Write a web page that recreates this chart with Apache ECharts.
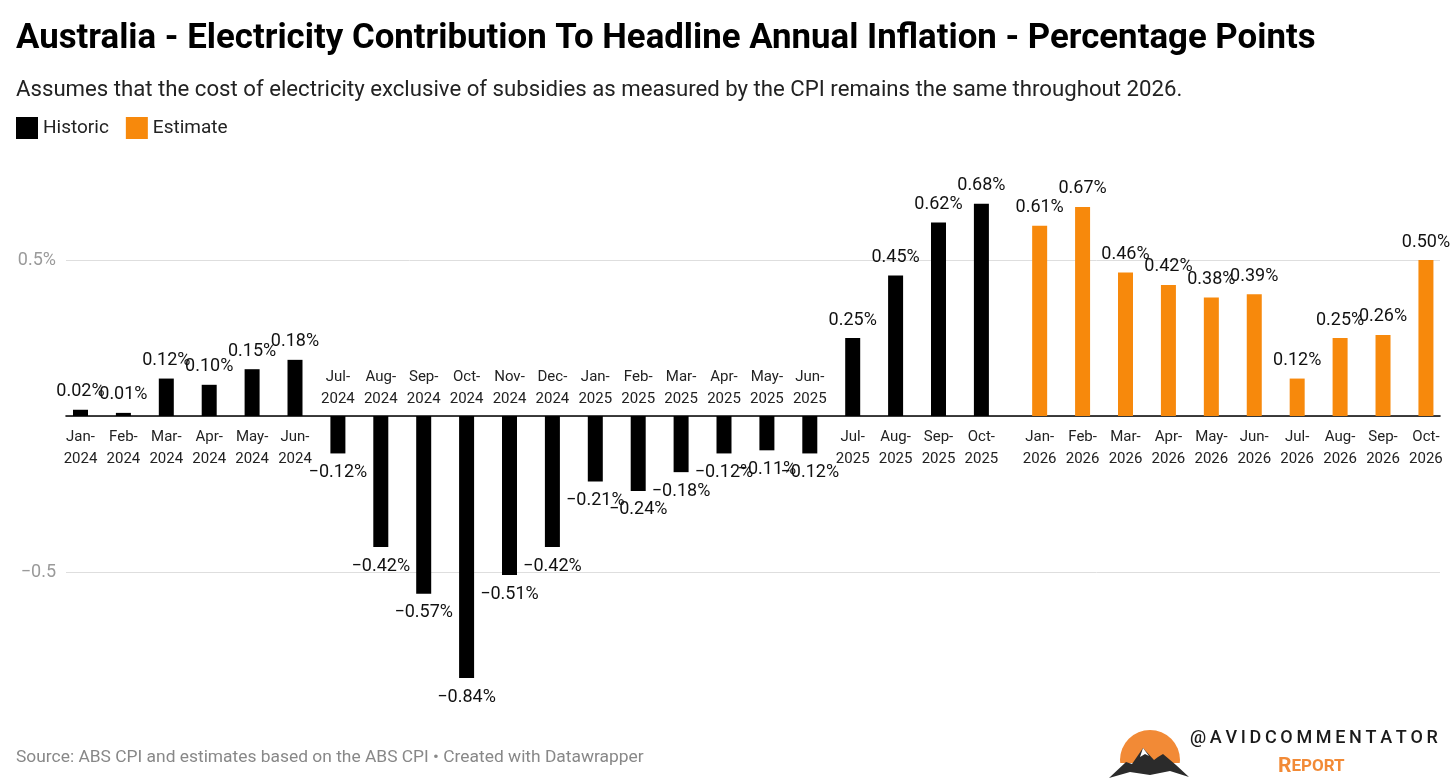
<!DOCTYPE html>
<html><head><meta charset="utf-8">
<script src="https://cdn.jsdelivr.net/npm/echarts@6/dist/echarts.min.js"></script>
<style>html,body{margin:0;padding:0;background:#fff}#c{width:1456px;height:782px}</style>
</head><body><div id="c"></div>
<script>
const histCategories = ['Jan-2024','Feb-2024','Mar-2024','Apr-2024','May-2024','Jun-2024','Jul-2024','Aug-2024','Sep-2024','Oct-2024','Nov-2024','Dec-2024','Jan-2025','Feb-2025','Mar-2025','Apr-2025','May-2025','Jun-2025','Jul-2025','Aug-2025','Sep-2025','Oct-2025'];
const histValues = [0.02,0.01,0.12,0.10,0.15,0.18,-0.12,-0.42,-0.57,-0.84,-0.51,-0.42,-0.21,-0.24,-0.18,-0.12,-0.11,-0.12,0.25,0.45,0.62,0.68];
const estCategories = ['Jan-2026','Feb-2026','Mar-2026','Apr-2026','May-2026','Jun-2026','Jul-2026','Aug-2026','Sep-2026','Oct-2026'];
const estValues = [0.61,0.67,0.46,0.42,0.38,0.39,0.12,0.25,0.26,0.50];
const yTickLabels = {'0.5':'0.5%','-0.5':'\u22120.5'};

const FONT = 'Roboto';
const BLACK = '#000000';
const ORANGE = '#f7890c';
const BAR_TOP = 104, BAR_HALF = 312; // zero line sits at BAR_TOP + BAR_HALF

function fmtCat(c){ return c.replace('-', '-\n'); }
function fmtVal(v){ return (v < 0 ? '\u2212' : '') + Math.abs(v).toFixed(2) + '%'; }
function items(vals){
  return vals.map(v => ({value: v, label: {position: v < 0 ? 'bottom' : 'top', distance: v < 0 ? 9 : 8}}));
}
function catAxis(grid, cats, vals, pos){
  return {
    gridIndex: grid, type: 'category', data: cats, position: pos, offset: -BAR_HALF,
    axisLine: {show: false, onZero: false},
    axisTick: {show: false}, splitLine: {show: false},
    axisLabel: {
      interval: 0, margin: pos === 'bottom' ? 10 : 6,
      fontFamily: FONT, fontSize: 15, lineHeight: 22, color: '#222',
      formatter: (v, i) => (pos === 'bottom' ? vals[i] >= 0 : vals[i] < 0) ? fmtCat(v) : ''
    }
  };
}
const valAxisHidden = (grid) => ({
  gridIndex: grid, type: 'value', min: -1, max: 1,
  axisLine: {show: false}, axisTick: {show: false}, axisLabel: {show: false}, splitLine: {show: false}
});
const barLabel = {
  show: true, distance: 8, fontFamily: FONT, fontSize: 18, lineHeight: 20, color: '#111',
  formatter: p => fmtVal(p.value)
};

const chart = echarts.init(document.getElementById('c'), null, {renderer: 'canvas'});
chart.setOption({
  backgroundColor: '#fff',
  animation: false,
  title: [
    {text: 'Australia - Electricity Contribution To Headline Annual Inflation - Percentage Points',
     left: 11, top: 17, textStyle: {fontFamily: FONT, fontSize: 34.8, fontWeight: 'bold', color: '#000'}},
    {text: 'Assumes that the cost of electricity exclusive of subsidies as measured by the CPI remains the same throughout 2026.',
     left: 11, top: 74, textStyle: {fontFamily: FONT, fontSize: 22.2, fontWeight: 'normal', color: '#222'}},
    {text: 'Source: ABS CPI and estimates based on the ABS CPI \u2022 Created with Datawrapper',
     left: 11, top: 744, textStyle: {fontFamily: FONT, fontSize: 17.4, fontWeight: 'normal', color: '#888'}}
  ],
  legend: {
    left: 11, top: 112, itemWidth: 22, itemHeight: 22, itemGap: 17, icon: 'rect',
    textStyle: {fontFamily: FONT, fontSize: 19, color: '#222'},
    data: ['Historic', 'Estimate']
  },
  grid: [
    {left: 59.05, width: 943.8, top: BAR_TOP, height: 2 * BAR_HALF, outerBoundsMode: 'none', containLabel: false},
    {left: 1018.2, width: 429.2, top: BAR_TOP, height: 2 * BAR_HALF, outerBoundsMode: 'none', containLabel: false},
    {left: 66, right: 16, top: 260, height: 312, outerBoundsMode: 'none', containLabel: false}
  ],
  xAxis: [
    catAxis(0, histCategories, histValues, 'bottom'),
    catAxis(0, histCategories, histValues, 'top'),
    catAxis(1, estCategories, estValues, 'bottom'),
    catAxis(1, estCategories, estValues, 'top'),
    {gridIndex: 2, type: 'value', min: 0, max: 1,
     axisLine: {show: true, onZero: true, lineStyle: {color: '#000', width: 1.6}},
     axisTick: {show: false}, axisLabel: {show: false}, splitLine: {show: false}}
  ],
  yAxis: [
    valAxisHidden(0),
    valAxisHidden(1),
    {gridIndex: 2, type: 'value', min: -0.5, max: 0.5, interval: 0.5,
     axisLine: {show: false}, axisTick: {show: false},
     splitLine: {show: true, lineStyle: {color: '#dedede', width: 1}},
     axisLabel: {margin: 10, fontFamily: FONT, fontSize: 18, color: '#9a9a9a',
       formatter: v => yTickLabels[String(Math.round(v * 10) / 10)] || ''}}
  ],
  series: [
    {name: 'Historic', type: 'bar', xAxisIndex: 0, yAxisIndex: 0, barWidth: 15,
     itemStyle: {color: BLACK}, label: barLabel, data: items(histValues), z: 3},
    {name: 'Estimate', type: 'bar', xAxisIndex: 2, yAxisIndex: 1, barWidth: 15,
     itemStyle: {color: ORANGE}, label: barLabel, data: items(estValues), z: 3}
  ],
  graphic: [
    {type: 'circle', shape: {cx: 1150, cy: 760, r: 30}, style: {fill: '#f28a36'}, z: 10},
    {type: 'rect', shape: {x: 1115, y: 763, width: 70, height: 30}, style: {fill: '#fff'}, z: 11},
    {type: 'polygon', shape: {points: [[1109,778],[1126,762],[1132,764],[1143,748],[1154,760],[1158,757],[1163,754],[1176,765],[1189,777],[1170,771],[1150,775],[1130,772]]},
     style: {fill: '#2b2b2b'}, z: 12},
    {type: 'polygon', shape: {points: [[1143,748],[1149,756],[1145,754],[1140,757]]}, style: {fill: '#fff'}, z: 13},
    {type: 'text', left: 1190, top: 729, z: 12,
     style: {text: '@\u2009A\u2009V\u2009I\u2009D\u2009C\u2009O\u2009M\u2009M\u2009E\u2009N\u2009T\u2009A\u2009T\u2009O\u2009R',
       font: '500 18px Roboto', fill: '#1a1a1a'}},
    {type: 'text', left: 1278, top: 756, z: 12,
     style: {text: '{a|R}{b|EPORT}', rich: {
       a: {fontFamily: FONT, fontSize: 21, fontWeight: 'bold', fill: '#f28a36', color: '#f28a36'},
       b: {fontFamily: FONT, fontSize: 17, fontWeight: 'bold', fill: '#f28a36', color: '#f28a36'}}}}
  ]
});
</script>
</body></html>
